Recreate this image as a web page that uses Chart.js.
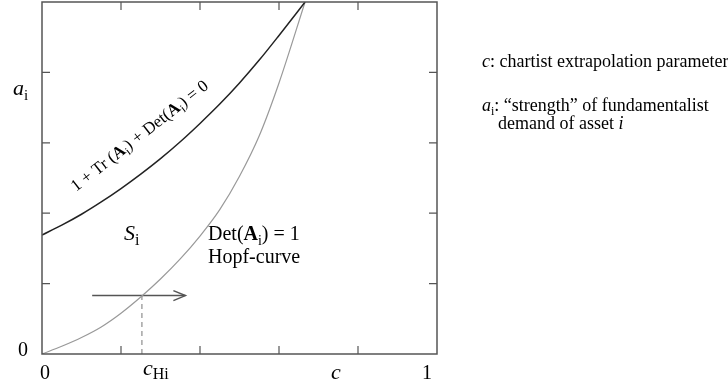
<!DOCTYPE html>
<html>
<head>
<meta charset="utf-8">
<script src="https://cdn.jsdelivr.net/npm/chart.js@4/dist/chart.umd.min.js"></script>
<style>
  body { margin: 0; background: #fff; }
  #wrap { width: 728px; height: 385px; }
</style>
</head>
<body>
<div id="wrap"><canvas id="grafico" width="728" height="385"></canvas></div>
<script>
// values (c on x, a_i on y)
const cFlip = [0, 0.05, 0.1, 0.15, 0.2, 0.25, 0.3, 0.35, 0.4, 0.45, 0.5, 0.55, 0.6, 0.666];
const aFlip = [0.338, 0.366, 0.397, 0.432, 0.47, 0.511, 0.555, 0.603, 0.655, 0.71, 0.77, 0.835, 0.905, 1.0];

const cHopf = [0, 0.05, 0.1, 0.15, 0.2, 0.25, 0.3, 0.35, 0.4, 0.45, 0.5, 0.55, 0.6, 0.666];
const aHopf = [0, 0.022, 0.047, 0.077, 0.116, 0.162, 0.213, 0.27, 0.335, 0.41, 0.505, 0.62, 0.77, 1.0];

const cHi = 0.253;
const aHi = 0.166;
const arrowFrom = 0.127;
const arrowTo = 0.363;

const tickValues = [0.2, 0.4, 0.6, 0.8];

const serif = '"Liberation Serif", "DejaVu Serif", serif';

function toPoints(xs, ys) {
    return xs.map((x, i) => ({ x: x, y: ys[i] }));
}

// draws a row of text pieces (font and vertical shift each), returns end x
function drawParts(ctx, parts, x, y) {
    parts.forEach((p) => {
        ctx.font = p.font;
        ctx.fillText(p.t, x, y + (p.dy || 0));
        x += ctx.measureText(p.t).width;
    });
    return x;
}

const decor = {
    id: 'decor',
    afterDatasetsDraw(chart) {
        const ctx = chart.ctx;
        const xs = chart.scales.x;
        const ys = chart.scales.y;
        const L = xs.getPixelForValue(0), R = xs.getPixelForValue(1);
        const T = ys.getPixelForValue(1), B = ys.getPixelForValue(0);

        ctx.save();

        // frame
        ctx.strokeStyle = '#555';
        ctx.lineWidth = 1.5;
        ctx.strokeRect(L, T, R - L, B - T);

        // inner ticks all round
        ctx.lineWidth = 1.2;
        ctx.beginPath();
        tickValues.forEach((v) => {
            const px = xs.getPixelForValue(v);
            const py = ys.getPixelForValue(v);
            ctx.moveTo(px, B); ctx.lineTo(px, B - 8);
            ctx.moveTo(px, T); ctx.lineTo(px, T + 8);
            ctx.moveTo(L, py); ctx.lineTo(L + 8, py);
            ctx.moveTo(R, py); ctx.lineTo(R - 8, py);
        });
        ctx.stroke();

        // arrow head
        const ax = xs.getPixelForValue(arrowTo);
        const ay = ys.getPixelForValue(aHi);
        ctx.strokeStyle = '#555';
        ctx.lineWidth = 1.5;
        ctx.beginPath();
        ctx.moveTo(ax - 12, ay - 5);
        ctx.lineTo(ax, ay);
        ctx.lineTo(ax - 12, ay + 5);
        ctx.stroke();

        // axis labels
        ctx.fillStyle = '#000';
        ctx.textBaseline = 'alphabetic';
        ctx.textAlign = 'center';
        ctx.font = '20px ' + serif;
        ctx.fillText('0', L + 3, 379);
        ctx.fillText('1', R - 10, 379);
        ctx.fillText('0', 23, 356);
        ctx.font = 'italic 22px ' + serif;
        ctx.fillText('c', 336, 379);

        ctx.textAlign = 'left';
        const hx = xs.getPixelForValue(cHi);
        drawParts(ctx, [
            { t: 'c', font: 'italic 22px ' + serif },
            { t: 'Hi', font: '16px ' + serif, dy: 4 }
        ], hx + 1, 375);

        drawParts(ctx, [
            { t: 'a', font: 'italic 22px ' + serif },
            { t: 'i', font: '15px ' + serif, dy: 5 }
        ], 13, 95);

        // region and curve names
        drawParts(ctx, [
            { t: 'S', font: 'italic 22px ' + serif },
            { t: 'i', font: '16px ' + serif, dy: 5 }
        ], 124, 240);

        drawParts(ctx, [
            { t: 'Det(', font: '20px ' + serif },
            { t: 'A', font: 'bold 20px ' + serif },
            { t: 'i', font: '14px ' + serif, dy: 5 },
            { t: ') = 1', font: '20px ' + serif }
        ], 208, 240);
        ctx.font = '20px ' + serif;
        ctx.fillText('Hopf-curve', 208, 263);

        ctx.save();
        ctx.translate(76, 192);
        ctx.rotate(-38 * Math.PI / 180);
        drawParts(ctx, [
            { t: '1 + Tr (', font: '17px ' + serif },
            { t: 'A', font: 'bold 17px ' + serif },
            { t: 'i', font: '12px ' + serif, dy: 4 },
            { t: ') + Det(', font: '17px ' + serif },
            { t: 'A', font: 'bold 17px ' + serif },
            { t: 'i', font: '12px ' + serif, dy: 4 },
            { t: ') = 0', font: '17px ' + serif }
        ], 0, 0);
        ctx.restore();

        // side notes
        drawParts(ctx, [
            { t: 'c', font: 'italic 18px ' + serif },
            { t: ': chartist extrapolation parameter', font: '18px ' + serif }
        ], 482, 67);
        drawParts(ctx, [
            { t: 'a', font: 'italic 18px ' + serif },
            { t: 'i', font: '12px ' + serif, dy: 4 },
            { t: ': \u201cstrength\u201d of fundamentalist', font: '18px ' + serif }
        ], 482, 111);
        drawParts(ctx, [
            { t: 'demand of asset ', font: '18px ' + serif },
            { t: 'i', font: 'italic 18px ' + serif }
        ], 498, 129);

        ctx.restore();
    }
};

const grafico = new Chart(document.getElementById('grafico'), {
    type: 'line',
    data: {
        datasets: [{
            label: 'flip',
            data: toPoints(cFlip, aFlip),
            borderColor: '#222',
            borderWidth: 1.5,
            pointRadius: 0,
            cubicInterpolationMode: 'monotone'
        }, {
            label: 'hopf',
            data: toPoints(cHopf, aHopf),
            borderColor: '#999',
            borderWidth: 1.2,
            pointRadius: 0,
            cubicInterpolationMode: 'monotone'
        }, {
            label: 'arrow',
            data: [{ x: arrowFrom, y: aHi }, { x: arrowTo, y: aHi }],
            borderColor: '#555',
            borderWidth: 1.5,
            pointRadius: 0
        }, {
            label: 'cHi',
            data: [{ x: cHi, y: 0 }, { x: cHi, y: aHi }],
            borderColor: '#777',
            borderWidth: 1,
            borderDash: [5, 4],
            pointRadius: 0
        }]
    },
    options: {
        responsive: false,
        animation: false,
        layout: { padding: { left: 42, top: 2, right: 291, bottom: 31 } },
        scales: {
            x: { type: 'linear', min: 0, max: 1, display: false },
            y: { type: 'linear', min: 0, max: 1, display: false }
        },
        plugins: {
            legend: { display: false },
            tooltip: { enabled: false }
        }
    },
    plugins: [decor]
});
</script>
</body>
</html>
